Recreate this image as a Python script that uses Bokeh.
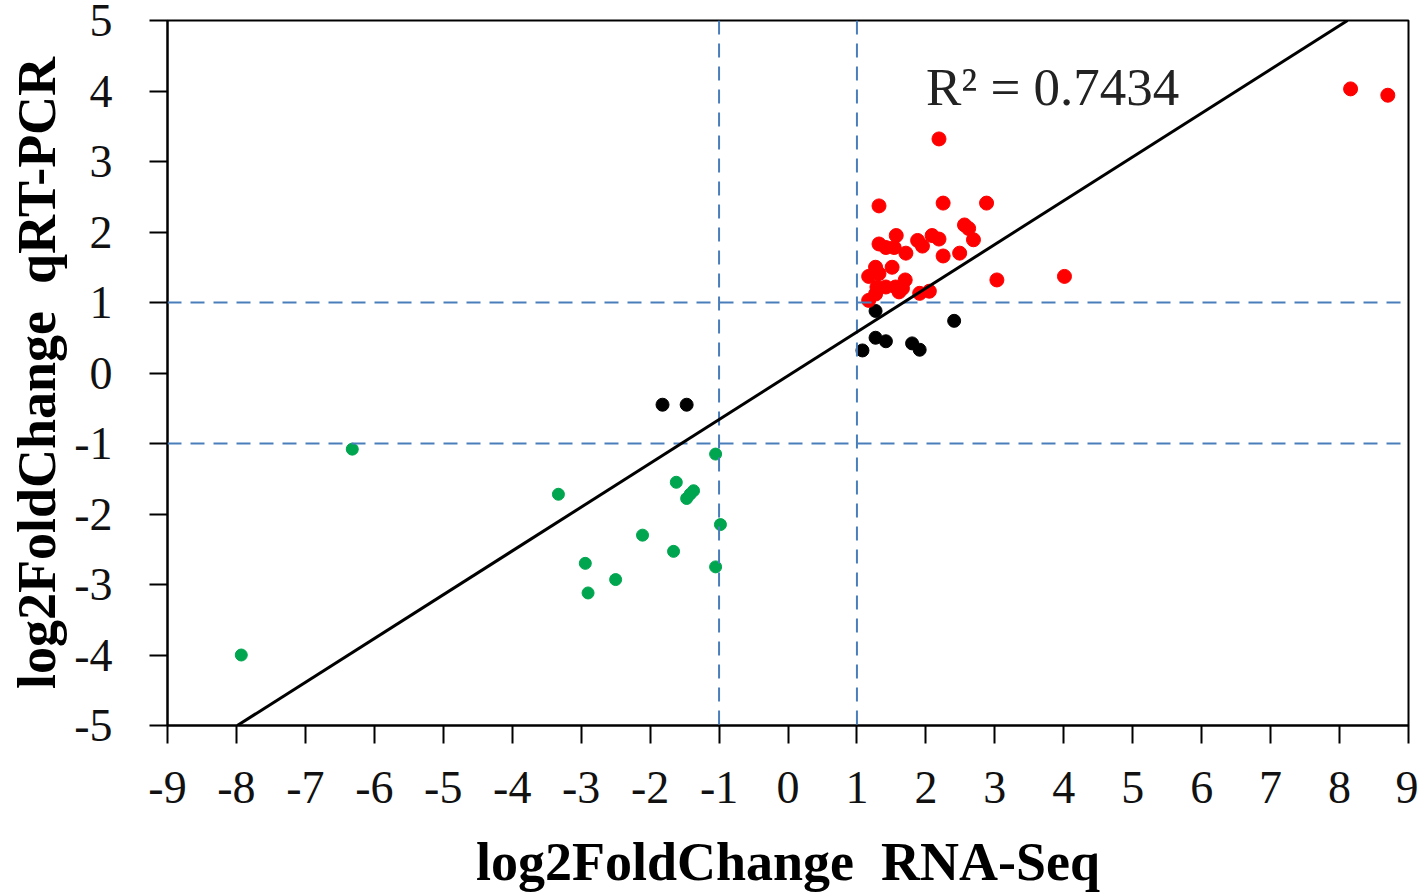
from bokeh.plotting import figure
from bokeh.models import Span, Slope, Label, FixedTicker, Range1d
from bokeh.embed import file_html
from bokeh.resources import INLINE

# ---- data ----
red_x = [2.19, 1.32, 2.25, 2.88, 2.56, 2.62, 2.69, 2.49, 2.25, 2.09, 2.19, 1.88, 1.95,
         1.71, 1.57, 1.32, 1.42, 1.54, 1.51, 1.27, 1.32, 1.17, 1.70, 1.29, 1.42, 1.56,
         1.66, 1.27, 1.61, 1.17, 1.91, 2.05, 3.03, 4.01, 8.16, 8.70]
red_y = [3.32, 2.37, 2.41, 2.41, 2.10, 2.05, 1.89, 1.70, 1.66, 1.95, 1.90, 1.88, 1.80,
         1.70, 1.95, 1.83, 1.78, 1.78, 1.50, 1.50, 1.41, 1.37, 1.32, 1.22, 1.22, 1.22,
         1.20, 1.12, 1.15, 1.03, 1.13, 1.16, 1.32, 1.37, 4.03, 3.94]

black_x = [-1.82, -1.47, 1.27, 2.41, 1.27, 1.42, 1.08, 1.80, 1.91]
black_y = [-0.45, -0.45, 0.88, 0.74, 0.50, 0.45, 0.32, 0.42, 0.33]

green_x = [-7.93, -6.32, -3.33, -2.94, -2.90, -2.50, -2.11, -1.66, -1.62, -1.47, -1.42,
           -1.37, -1.05, -0.98, -1.05]
green_y = [-4.00, -1.08, -1.72, -2.70, -3.12, -2.93, -2.30, -2.53, -1.55, -1.78, -1.72,
           -1.67, -1.15, -2.15, -2.75]

x_ticks = list(range(-9, 10))
y_ticks = list(range(-5, 6))
thresholds = [-1, 1]
fit_gradient = 0.621
fit_intercept = -0.04
r2_text = "R\u00b2 = 0.7434"
x_title = "log2FoldChange\u00a0\u00a0RNA-Seq"
y_title = "log2FoldChange\u00a0\u00a0qRT-PCR"

SERIF = "Liberation Serif"

p = figure(width=1418, height=896, output_backend="svg", toolbar_location=None,
           x_range=Range1d(-9, 9), y_range=Range1d(-5, 5),
           min_border_left=167, min_border_top=20, min_border_right=10,
           min_border_bottom=171, background_fill_color="white",
           border_fill_color="white")
p.frame_width = 1241
p.frame_height = 705

p.grid.visible = False
p.outline_line_color = "black"
p.outline_line_width = 2
p.outline_line_alpha = 1

for ax in (p.xaxis[0], p.yaxis[0]):
    ax.axis_line_color = "black"
    ax.axis_line_width = 2
    ax.major_tick_line_color = "black"
    ax.major_tick_line_width = 2
    ax.major_tick_in = 0
    ax.major_tick_out = 18
    ax.minor_tick_line_color = None
    ax.major_label_text_font = SERIF
    ax.major_label_text_font_size = "46px"
    ax.major_label_text_color = "#111111"
    ax.axis_label_text_font = SERIF
    ax.axis_label_text_font_style = "bold"
    ax.axis_label_text_font_size = "54px"
    ax.axis_label_text_color = "black"

p.xaxis.ticker = FixedTicker(ticks=x_ticks)
p.yaxis.ticker = FixedTicker(ticks=y_ticks)
p.xaxis.major_label_overrides = {t: str(t) for t in x_ticks}
p.yaxis.major_label_overrides = {t: str(t) for t in y_ticks}
p.xaxis.major_label_standoff = 28
p.yaxis.major_label_standoff = 37
p.xaxis.axis_label = x_title
p.yaxis.axis_label = y_title
p.xaxis.axis_label_standoff = 26
p.yaxis.axis_label_standoff = 4

dash_color = "#4a7ebb"
for t in thresholds:
    p.add_layout(Span(location=t, dimension="height", line_color=dash_color,
                      line_width=2, line_dash="14 9"))
    p.add_layout(Span(location=t, dimension="width", line_color=dash_color,
                      line_width=2, line_dash="14 9"))

p.add_layout(Slope(gradient=fit_gradient, y_intercept=fit_intercept,
                   line_color="black", line_width=3))

p.scatter(green_x, green_y, marker="circle", size=12, fill_color="#00A64F",
          line_color="#00A64F")
p.scatter(black_x, black_y, marker="circle", size=13, fill_color="black",
          line_color="black")
p.scatter(red_x, red_y, marker="circle", size=14, fill_color="#FF0000",
          line_color="#FF0000")

p.add_layout(Label(x=2.0, y=4.05, text=r2_text, text_font=SERIF,
                   text_font_size="53px", text_color="#222222",
                   text_align="left", text_baseline="alphabetic"))

open("out.html", "w").write(file_html(p, INLINE))
